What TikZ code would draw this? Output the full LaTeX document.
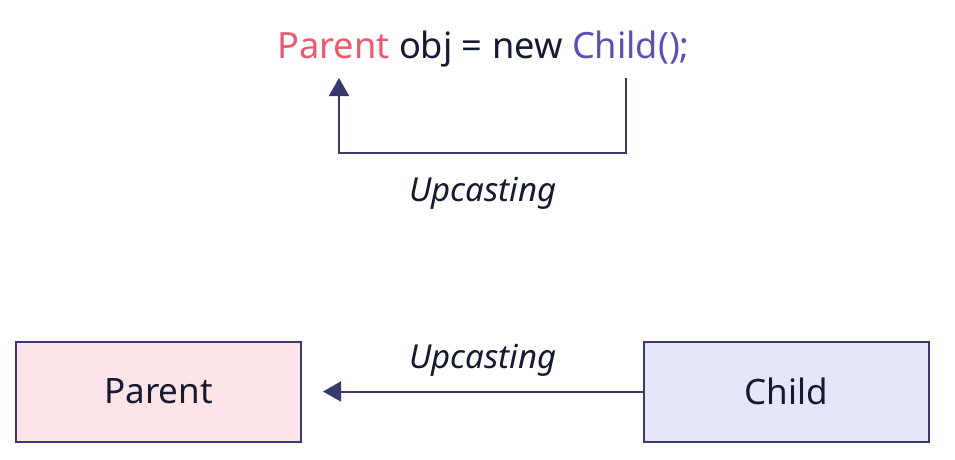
\documentclass[tikz,border=0pt]{standalone}
\usepackage{fontspec}
\setmainfont{Noto Sans}
\usetikzlibrary{arrows.meta}
\definecolor{navy}{HTML}{383A6E}
\definecolor{ink}{HTML}{161A30}
\definecolor{pred}{HTML}{E95A6E}
\definecolor{cpur}{HTML}{5D50B4}
\definecolor{pfill}{HTML}{FDE4E8}
\definecolor{cfill}{HTML}{E6E6FB}
\tikzset{
  box/.style={draw=navy, line width=2pt, minimum width=285pt, minimum height=100pt, inner sep=0pt, text=ink, font=\fontsize{35}{40}\selectfont},
  conn/.style={draw=navy, line width=2pt, -{Triangle[length=18pt,width=20pt]}},
  lab/.style={text=ink, inner sep=0pt, font=\fontsize{33}{38}\selectfont\itshape}
}
\begin{document}
\begin{tikzpicture}[x=1pt,y=-1pt]
\useasboundingbox (0,0) rectangle (955,459);
\node[anchor=base, inner sep=0pt, font=\fontsize{36.2}{42}\selectfont, text=ink] (code) at (483.5,58)
  {\textcolor{pred}{Parent} obj = new \textcolor{cpur}{Child();}};
\coordinate (cs) at (626,78);
\coordinate (ct) at (339,78);
\draw[conn] (cs) |- (482,153) -| (ct);
\node[lab, anchor=base] (l1) at (483,201) {Upcasting};
\node[box, fill=pfill] (parent) at (158.5,391.5) {Parent};
\node[box, fill=cfill] (child) at (786,391.5) {Child};
\coordinate (pt) at (323,391.5);
\draw[conn] (child.west) -- (pt);
\node[lab, anchor=base] (l2) at (483,368) {Upcasting};
\end{tikzpicture}
\end{document}
